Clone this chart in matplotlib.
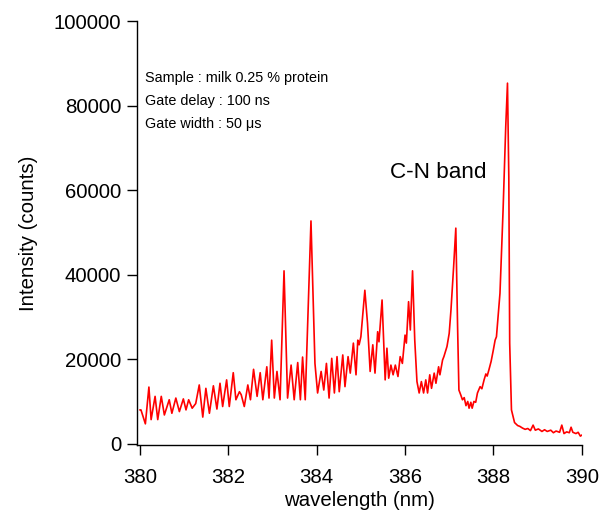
import matplotlib
matplotlib.use('Agg')
import matplotlib.pyplot as plt

plt.rcParams['font.family'] = ['Liberation Sans', 'DejaVu Sans']

# spectrum (nm, counts)
wavelength = [
    380.00, 380.02, 380.12, 380.20, 380.25, 380.34, 380.40, 380.48, 380.55, 380.66,
    380.72, 380.81, 380.89, 380.98, 381.04, 381.10, 381.18, 381.26, 381.34, 381.42,
    381.49, 381.57, 381.66, 381.74, 381.81, 381.87, 381.96, 382.02, 382.11, 382.17,
    382.25, 382.29, 382.36, 382.44, 382.50, 382.57, 382.65, 382.72, 382.78, 382.87,
    382.92, 382.98, 383.04, 383.10, 383.17, 383.26, 383.34, 383.42, 383.49, 383.57,
    383.63, 383.68, 383.74, 383.87, 383.96, 384.02, 384.10, 384.16, 384.22, 384.28,
    384.34, 384.40, 384.46, 384.51, 384.59, 384.64, 384.71, 384.76, 384.83, 384.89,
    384.93, 384.96, 385.00, 385.09, 385.15, 385.21, 385.27, 385.32, 385.38, 385.41,
    385.48, 385.55, 385.59, 385.63, 385.68, 385.73, 385.78, 385.84, 385.89, 385.94,
    386.00, 386.03, 386.08, 386.12, 386.17, 386.22, 386.27, 386.32, 386.37, 386.42,
    386.47, 386.51, 386.56, 386.60, 386.66, 386.70, 386.76, 386.79, 386.85, 386.88,
    386.95, 387.00, 387.04, 387.10, 387.15, 387.19, 387.22, 387.26, 387.30, 387.34,
    387.38, 387.42, 387.45, 387.49, 387.52, 387.56, 387.60, 387.64, 387.70, 387.74,
    387.79, 387.83, 387.86, 387.90, 387.95, 388.00, 388.04, 388.07, 388.15, 388.22,
    388.28, 388.32, 388.35, 388.37, 388.41, 388.48, 388.55, 388.60, 388.66, 388.72,
    388.78, 388.84, 388.90, 388.95, 389.02, 389.10, 389.16, 389.22, 389.30, 389.36,
    389.42, 389.50, 389.55, 389.60, 389.66, 389.72, 389.76, 389.80, 389.87, 389.92,
    389.97, 390.00,
]
intensity = [
    8000, 8000, 4700, 13400, 5700, 11200, 5700, 11200, 6800, 10400,
    7200, 10800, 7600, 10600, 8000, 10400, 8400, 9500, 13900, 6300,
    13100, 7200, 13700, 8200, 14300, 8800, 15100, 8800, 16800, 10400,
    12300, 11600, 8800, 13900, 10400, 17600, 11200, 16800, 10400, 18200,
    10800, 24500, 10800, 17100, 10400, 40900, 10800, 18600, 10400, 19200,
    10400, 20500, 10400, 52700, 19000, 12000, 17100, 12700, 19000, 10800,
    20200, 12000, 20600, 12300, 21000, 13500, 20600, 16700, 23800, 16300,
    24500, 23400, 25300, 36300, 28500, 17100, 23400, 16700, 26500, 24100,
    34000, 15100, 22600, 15500, 18600, 16300, 18600, 15900, 20600, 19000,
    25700, 23800, 33600, 26900, 40900, 24500, 14700, 12000, 14700, 12000,
    15100, 12000, 16300, 13100, 16700, 14300, 18200, 16300, 19800, 20600,
    23000, 26100, 31600, 41800, 51000, 27700, 12700, 11600, 10400, 10900,
    9000, 10000, 8400, 9800, 8400, 10000, 9800, 12000, 13500, 13000,
    15100, 16500, 16000, 17500, 19500, 22200, 24500, 25300, 35600, 55200,
    74900, 85300, 63100, 23800, 8000, 5000, 4300, 4100, 3700, 3400,
    3600, 3100, 4400, 3200, 3500, 2900, 3300, 2900, 3200, 2600,
    3000, 2700, 4400, 2400, 2800, 2600, 3900, 2700, 2400, 2700,
    1800, 2000,
]

x_ticks = [380, 382, 384, 386, 388, 390]
y_ticks = [0, 20000, 40000, 60000, 80000, 100000]

info_lines = ['Sample : milk 0.25 % protein',
              'Gate delay : 100 ns',
              'Gate width : 50 \u03bcs']

fig = plt.figure(figsize=(6.08, 5.11), dpi=100)
ax = fig.add_axes([0.2253, 0.1292, 0.7314, 0.8297])

ax.plot(wavelength, intensity, color='#ff0000', lw=1.2)

ax.set_xlim(379.93, 390)
ax.set_ylim(-300, 100000)
ax.set_xticks(x_ticks)
ax.set_yticks(y_ticks)
ax.set_xticklabels([str(t) for t in x_ticks])
ax.set_yticklabels([str(t) for t in y_ticks])

for side in ['top', 'right']:
    ax.spines[side].set_visible(False)
for side in ['left', 'bottom']:
    ax.spines[side].set_linewidth(1.0)
ax.tick_params(direction='out', length=7.5, width=1.0, labelsize=14.7)
ax.tick_params(axis='x', pad=9)
ax.tick_params(axis='y', pad=4)

# the reference crops this label at the bottom edge; keep it just inside
ax.set_xlabel('wavelength (nm)', fontsize=14.7, labelpad=3)
ax.set_ylabel('Intensity (counts)', fontsize=14.7, labelpad=11)

for i, line in enumerate(info_lines):
    fig.text(145 / 608, 1 - (78 + 23 * i) / 511, line, fontsize=10.4, va='center', ha='left')

fig.text(390 / 608, 1 - 173 / 511, 'C-N band', fontsize=16.2, va='center', ha='left')

fig.savefig('out.png', dpi=100)
